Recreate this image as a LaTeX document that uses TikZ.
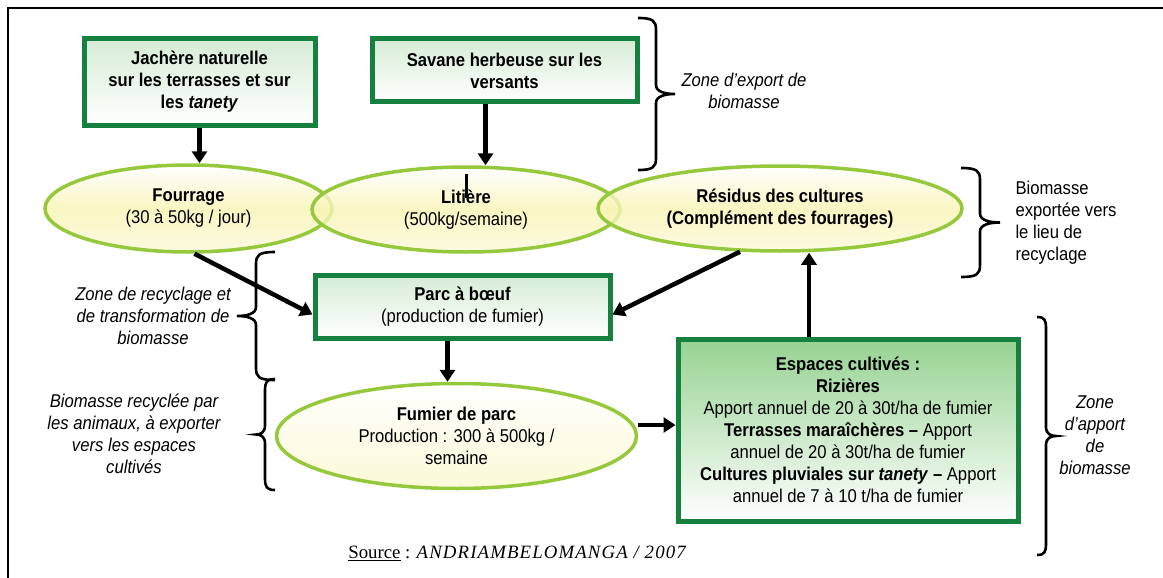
\documentclass[tikz,border=0pt]{standalone}
\usepackage{fontspec}
\setmainfont{Liberation Sans}[FakeStretch=0.9]
\newfontfamily\srcfont{Liberation Serif}
\newfontfamily\srcspaced{Liberation Serif}[LetterSpace=6]
\usetikzlibrary{shapes.geometric,arrows.meta}
\definecolor{boxgreen}{RGB}{22,128,62}
\definecolor{ellgreen}{RGB}{150,200,60}
\definecolor{paleg}{RGB}{214,236,214}
\definecolor{midg}{RGB}{150,210,145}
\definecolor{ellyel}{RGB}{248,244,180}
\definecolor{fumyel}{RGB}{244,238,130}
% brace: hook x, vertical x, tip x, top y, bottom y
\newcommand{\zbrace}[5]{%
  \draw[brcline] (#1,#4) .. controls ({#2+(#1-#2)*0.15},#4) and (#2,{#4+3}) .. (#2,{#4+12})
    -- (#2,{(#4+#5)/2-9}) .. controls (#2,{(#4+#5)/2-2}) and ({#3+(#2-#3)*0.5},{(#4+#5)/2}) .. (#3,{(#4+#5)/2})
    .. controls ({#3+(#2-#3)*0.5},{(#4+#5)/2}) and (#2,{(#4+#5)/2+2}) .. (#2,{(#4+#5)/2+9})
    -- (#2,{#5-12}) .. controls (#2,{#5-3}) and ({#2+(#1-#2)*0.15},#5) .. (#1,#5);}
\begin{document}
\begin{tikzpicture}[x=1pt,y=-1pt,
  txt/.style={font=\fontsize{18.5}{22}\selectfont, align=center},
  gbox/.style={txt, draw=boxgreen, line width=5pt, top color=paleg, bottom color=white, inner sep=0pt},
  ell/.style={txt, ellipse, draw=ellgreen, line width=3.5pt, inner sep=0pt,
    top color=white, bottom color=ellyel!50!white, middle color=ellyel,
    fill opacity=0.8, text opacity=1},
  arr/.style={line width=4.5pt, -{Triangle[width=15pt,length=12pt]}},
  brcline/.style={line width=2.6pt},
  note/.style={font=\fontsize{18.5}{22}\selectfont\itshape, align=center}
]
\useasboundingbox (0,0) rectangle (1163,578);
\fill[white] (0,0) rectangle (1163,578);
% frame
\draw[line width=2.2pt] (1163,8) -- (8,8) -- (8,578);

% top boxes
\node[gbox, minimum width=231pt, minimum height=86pt] (jach) at (199.5,82)
  {\textbf{Jachère naturelle}\\\textbf{sur les terrasses et sur}\\\textbf{les \textit{tanety}}};
\node[gbox, minimum width=265pt, minimum height=63pt] (sav) at (504.5,70.5)
  {\textbf{Savane herbeuse sur les}\\\textbf{versants}};

% ellipses
\node[ell, minimum width=287pt, minimum height=87pt] (four) at (188.5,208.5)
  {\textbf{Fourrage}\\(30 à 50kg / jour)};
\node[ell, minimum width=308pt, minimum height=85pt] (lit) at (466,209.5)
  {\textbf{Litière}\\(500kg/semaine)};
\node[ell, minimum width=364pt, minimum height=85pt] (res) at (780,208.5)
  {\textbf{Résidus des cultures}\\\textbf{(Complément des fourrages)}};
\draw[line width=3pt] (466,174) -- (466,198);

% parc
\node[gbox, minimum width=295pt, minimum height=63pt] (parc) at (462.5,306.5)
  {\textbf{Parc à bœuf}\\(production de fumier)};

% fumier
\node[ell, middle color=fumyel, bottom color=fumyel!40!white, minimum width=360pt, minimum height=105pt] (fum) at (456.5,436)
  {\textbf{Fumier de parc}\\Production : 300 à 500kg /\\semaine};

% espaces
\node[gbox, top color=midg, bottom color=white, minimum width=340pt, minimum height=182pt] (esp) at (848,430)
  {\textbf{Espaces cultivés :}\\\textbf{Rizières}\\Apport annuel de 20 à 30t/ha de fumier\\
   \textbf{Terrasses maraîchères –} Apport\\annuel de 20 à 30t/ha de fumier\\
   \textbf{Cultures pluviales sur \textit{tanety} –} Apport\\annuel de 7 à 10 t/ha de fumier};

% arrows
\draw[arr] (jach.south) -- (jach.south |- four.north);
\draw[arr] ([xshift=-19pt]sav.south) -- ([xshift=-19pt]sav.south |- lit.north);
\draw[arr] ([xshift=6pt]four.south) -- ([yshift=-8pt]parc.west);
\draw[arr] ([xshift=-40pt,yshift=1pt]res.south) -- ([yshift=-8pt]parc.east);
\draw[arr] ([xshift=-15pt]parc.south) -- ([xshift=-15pt]parc.south |- fum.north);
\draw[arr] ([yshift=11pt]fum.east) -- ([yshift=11pt]fum.east -| esp.west);
\draw[arr] ([xshift=-39pt]esp.north) -- ([xshift=-39pt]esp.north |- res.south);

% braces
\zbrace{638}{656}{675}{18}{170}
\zbrace{961}{980}{1000}{168}{277}
\zbrace{275}{256}{237}{252}{380}
\zbrace{275}{265}{256}{379}{490}
\zbrace{1037}{1046}{1056}{317}{555}

% notes
\node[note] (nexp) at (744,90.5) {Zone d’export de\\biomasse};
\node[txt, align=left, anchor=west] (nbio1) at (1012,223) {Biomasse\\exportée vers\\le lieu de\\recyclage};
\node[note] (nrec) at (153,315.5) {Zone de recyclage et\\de transformation de\\biomasse};
\node[note] (nbio2) at (134,434) {Biomasse recyclée par\\les animaux, à exporter\\vers les espaces\\cultivés};
\node[note] (napp) at (1095,435) {Zone\\d’apport\\de\\biomasse};

% source
\node[font=\srcfont\fontsize{18.8}{22}\selectfont] (src) at (517,553)
  {\underline{Source} : {\srcspaced\itshape ANDRIAMBELOMANGA / 2007}};
\end{tikzpicture}
\end{document}
